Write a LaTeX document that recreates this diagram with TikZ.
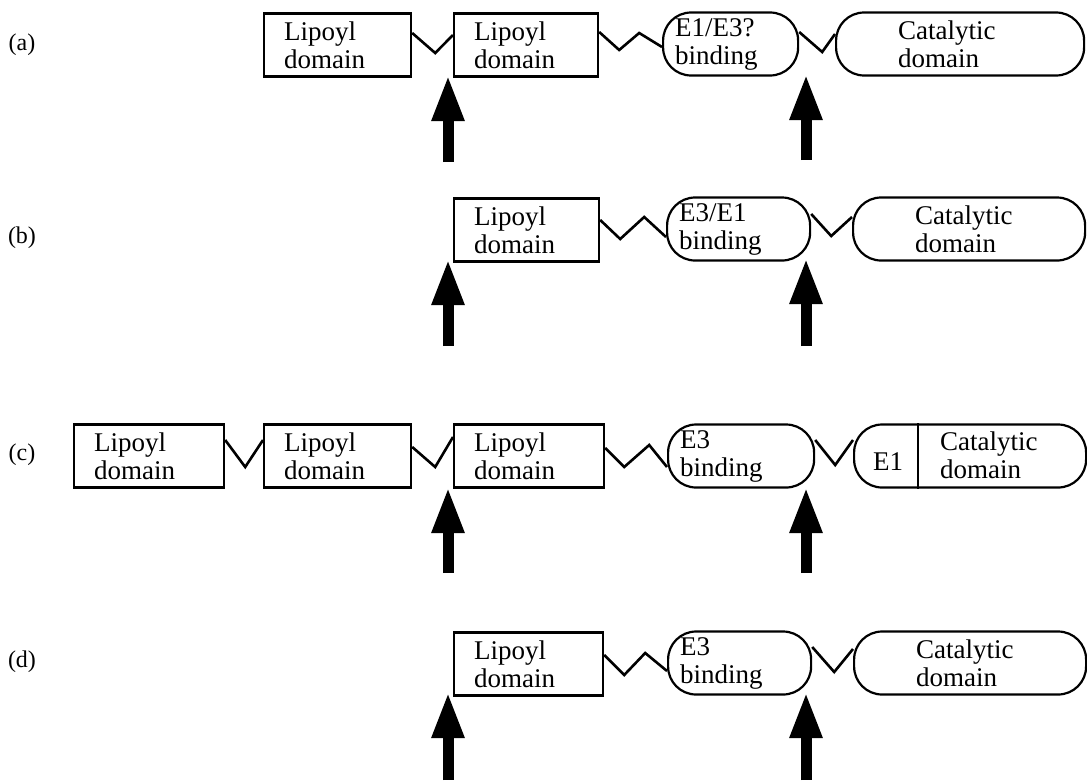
\documentclass[tikz,border=0pt]{standalone}
\usepackage{fontspec}
\setmainfont{Liberation Serif}
\usetikzlibrary{arrows.meta}
\begin{document}
\begin{tikzpicture}[x=1pt,y=-1pt,
  dom/.style={draw, line width=2.2pt, align=left, inner ysep=0pt, anchor=west,
    font=\fontsize{27}{28}\selectfont, minimum height=63pt},
  lip/.style={dom, rectangle, inner xsep=20pt, text width=#1},
  bind/.style={dom, rounded corners=28pt, inner xsep=12pt, text width=#1},
  cat/.style={dom, rounded corners=28pt, inner xsep=62pt, text width=#1},
  txt/.style={inner sep=0pt, anchor=west, align=left, font=\fontsize{27}{28}\selectfont},
  link/.style={line width=2.6pt, line join=miter},
  upar/.style={line width=11pt, -{Triangle[width=30pt,length=46pt]}},
  lab/.style={font=\fontsize{24}{26}\selectfont}
]
\useasboundingbox (0,0) rectangle (1087,780);

% ---------- row (a)
\node[lab] (la) at (22,45) {(a)};
\node[lip=107pt] (a2) at (263,45) {Lipoyl\\domain};
\node[lip=104pt] (a3) at (453,45) {Lipoyl\\domain};
\node[bind=111pt] (a4) at (662,44) {E1/E3?\\binding};
\node[cat=124pt] (a5) at (835,44) {Catalytic\\domain};
\draw[link] ([yshift=12pt]a2.east) -- ++(23,20) -- ([yshift=10pt]a3.west);
\draw[link] ([yshift=13pt]a3.east) -- ++(20,18) -- ++(20,-17) -- ([yshift=-3pt]a4.west);
\draw[link] ([yshift=12pt]a4.east) -- ++(23,20) -- ([yshift=10pt]a5.west);
\coordinate (aLt) at (448,75);  \coordinate (aLb) at (448,162);
\coordinate (aRt) at (806,74);  \coordinate (aRb) at (806,160);
\draw[upar] (aLb) -- (aLt);
\draw[upar] (aRb) -- (aRt);

% ---------- row (b)
\node[lab] (lb) at (22,238) {(b)};
\node[lip=105pt] (b3) at (453,230) {Lipoyl\\domain};
\node[bind=119pt] (b4) at (666,229) {E3/E1\\binding};
\node[cat=108pt] (b5) at (852,229) {Catalytic\\domain};
\draw[link] ([yshift=10pt]b3.east) -- ++(20,19) -- ++(24,-22) -- ([yshift=-8pt]b4.west);
\draw[link] ([yshift=15pt]b4.east) -- ++(20,22) -- ([yshift=12pt]b5.west);
\coordinate (bLt) at (448,259); \coordinate (bLb) at (448,346);
\coordinate (bRt) at (806,258); \coordinate (bRb) at (806,346);
\draw[upar] (bLb) -- (bLt);
\draw[upar] (bRb) -- (bRt);

% ---------- row (c)
\node[lab] (lc) at (22,455) {(c)};
\node[lip=110pt] (c1) at (73,456) {Lipoyl\\domain};
\node[lip=107pt] (c2) at (263,456) {Lipoyl\\domain};
\node[lip=110pt] (c3) at (453,456) {Lipoyl\\domain};
\node[bind=122pt] (c4) at (667,456) {E3\\binding};
\node[dom, rounded corners=28pt, minimum width=232pt] (c5) at (853,456) {};
\draw[line width=2.2pt] ([xshift=65pt]c5.north west) -- ([xshift=65pt]c5.south west);
\node[txt] (c5a) at (873,462) {E1};
\node[txt] (c5b) at (940,455) {Catalytic\\domain};
\draw[link] ([yshift=16pt]c1.east) -- ++(20,27) -- ([yshift=16pt]c2.west);
\draw[link] ([yshift=9pt]c2.east) -- ++(23,20) -- ([yshift=19pt]c3.west);
\draw[link] ([yshift=8pt]c3.east) -- ++(19,19) -- ++(25,-22) -- ([yshift=-11pt]c4.west);
\draw[link] ([yshift=16pt]c4.east) -- ++(20,25) -- ([yshift=16pt]c5.west);
\coordinate (cLt) at (448,487); \coordinate (cLb) at (448,573);
\coordinate (cRt) at (806,487); \coordinate (cRb) at (806,573);
\draw[upar] (cLb) -- (cLt);
\draw[upar] (cRb) -- (cRt);

% ---------- row (d)
\node[lab] (ld) at (22,662) {(d)};
\node[lip=109pt] (d3) at (453,664) {Lipoyl\\domain};
\node[bind=119pt] (d4) at (667,663) {E3\\binding};
\node[cat=108pt] (d5) at (853,663) {Catalytic\\domain};
\draw[link] ([yshift=9pt]d3.east) -- ++(20,20) -- ++(21,-22) -- ([yshift=-8pt]d4.west);
\draw[link] ([yshift=16pt]d4.east) -- ++(22,25) -- ([yshift=14pt]d5.west);
\coordinate (dLt) at (448,692); \coordinate (dLb) at (448,780);
\coordinate (dRt) at (806,692); \coordinate (dRb) at (806,780);
\draw[upar] (dLb) -- (dLt);
\draw[upar] (dRb) -- (dRt);
\end{tikzpicture}
\end{document}
